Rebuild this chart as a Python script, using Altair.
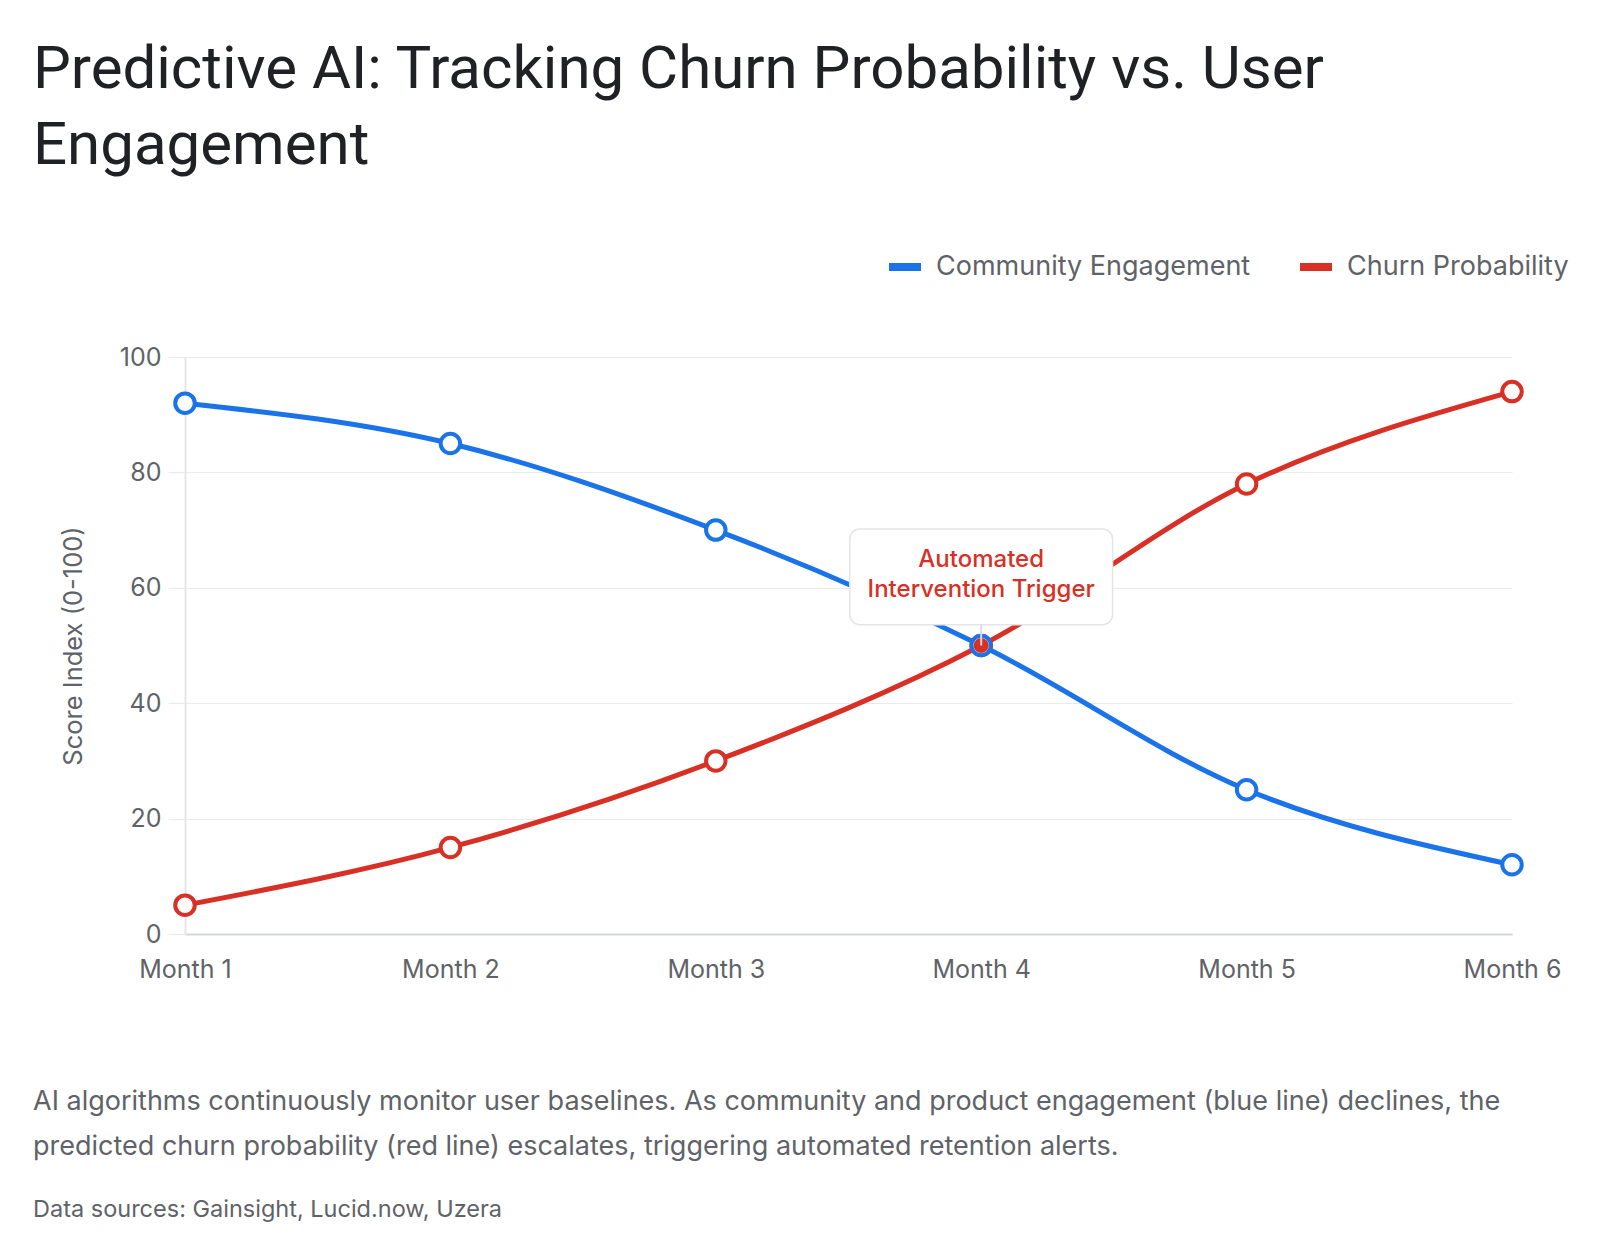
import json

import altair as alt
import pandas as pd

# ---- data -------------------------------------------------------------
months = ["Month 1", "Month 2", "Month 3", "Month 4", "Month 5", "Month 6"]
engagement = [92, 85, 70, 50, 25, 12]
churn = [5, 15, 30, 50, 78, 94]
series_names = ["Community Engagement", "Churn Probability"]
series_colors = ["#1a73e8", "#d93025"]
y_ticks = [0, 20, 40, 60, 80, 100]

trigger_month = 4
trigger_value = 50
trigger_label = ["Automated", "Intervention Trigger"]

title_lines = ["Predictive AI: Tracking Churn Probability vs. User", "Engagement"]
caption_lines = [
    "AI algorithms continuously monitor user baselines. As community and product engagement (blue line) declines, the",
    "predicted churn probability (red line) escalates, triggering automated retention alerts.",
]
sources_line = "Data sources: Gainsight, Lucid.now, Uzera"

rows = []
for i, m in enumerate(months):
    rows.append({"idx": i + 1, "month": m, "series": series_names[0], "value": engagement[i]})
    rows.append({"idx": i + 1, "month": m, "series": series_names[1], "value": churn[i]})
df = pd.DataFrame(rows)

# ---- styling ----------------------------------------------------------
TITLE_FONT = "Roboto"
FONT = "Inter"
GREY_TEXT = "#5f6368"
GRID = "#e8eaed"
W, H = 1327, 577

label_expr = f"{json.dumps(months)}[datum.value - 1]"

x_scale = alt.Scale(domain=[1, len(months)], nice=False, zero=False)
y_scale = alt.Scale(domain=[0, 100], nice=False)

x_enc = alt.X(
    "idx:Q",
    scale=x_scale,
    axis=alt.Axis(
        values=list(range(1, len(months) + 1)),
        labelExpr=label_expr,
        labelFlush=False,
        title=None,
        grid=False,
        ticks=False,
        labelPadding=23,
        labelFontSize=25,
        labelFont=FONT,
        labelColor=GREY_TEXT,
        domainColor="#d5d7da",
        domainWidth=2,
    ),
)
y_enc = alt.Y(
    "value:Q",
    scale=y_scale,
    axis=alt.Axis(
        values=y_ticks,
        title="Score Index (0-100)",
        titleFont=FONT,
        titleFontSize=25.5,
        titleFontWeight="normal",
        titleColor=GREY_TEXT,
        titleX=-112,
        titleBaseline="middle",
        grid=True,
        gridColor=GRID,
        gridWidth=1.2,
        tickColor=GRID,
        tickSize=17,
        tickWidth=1.2,
        labelPadding=7,
        labelFontSize=25,
        labelFont=FONT,
        labelColor=GREY_TEXT,
        domain=True,
        domainColor="#e3e5e8",
        domainWidth=2,
    ),
)
color_scale = alt.Scale(domain=series_names, range=series_colors)
color_enc = alt.Color(
    "series:N",
    scale=color_scale,
    legend=alt.Legend(
        title=None,
        orient="none",
        legendX=700,
        legendY=-110,
        direction="horizontal",
        symbolType="stroke",
        symbolSize=1024,
        symbolStrokeWidth=8,
        labelFontSize=27,
        labelFont=FONT,
        labelColor=GREY_TEXT,
        labelLimit=0,
        labelOffset=11,
        columnPadding=33,
        padding=0,
    ),
)
stroke_enc = alt.Stroke("series:N", scale=color_scale, legend=None)

base = alt.Chart(df)


def series_lines(name):
    return (
        base.transform_filter(alt.datum.series == name)
        .mark_line(interpolate="monotone", strokeWidth=5)
        .encode(x=x_enc, y=y_enc, color=color_enc)
    )


def series_points(name):
    return (
        base.transform_filter(alt.datum.series == name)
        .mark_point(shape="circle", filled=True, fill="white", size=380, strokeWidth=4, opacity=1)
        .encode(x=x_enc, y=y_enc, stroke=stroke_enc)
    )


# annotation box around the crossover
box_left, box_right = trigger_month - 0.495, trigger_month + 0.495
box_top, box_bottom = 70.2, 53.6
label_y = 64.8
one = pd.DataFrame({"idx": [trigger_month], "value": [trigger_value]})

box = alt.Chart(one).mark_rect(
    fill="white", stroke="#e3e5e8", strokeWidth=1.5, cornerRadius=10
).encode(
    x=alt.X(datum=box_left, scale=x_scale),
    x2=alt.X2(datum=box_right),
    y=alt.Y(datum=box_top, scale=y_scale),
    y2=alt.Y2(datum=box_bottom),
)
trigger_dot = alt.Chart(one).mark_circle(size=230, color="#d93025", opacity=1).encode(x=x_enc, y=y_enc)
connector = alt.Chart(one).mark_rule(color="#dadce0", strokeWidth=2).encode(
    x=x_enc, y=y_enc, y2=alt.Y2(datum=box_bottom)
)
trigger_text = alt.Chart(one).mark_text(
    font=FONT, fontSize=24, fontWeight=500, color="#d93025", lineHeight=30,
    align="center", baseline="middle",
).encode(x=x_enc, y=alt.Y(datum=label_y, scale=y_scale), text=alt.value(trigger_label))

# heading and footnotes
blank = pd.DataFrame({"_": [0]})
title = alt.Chart(blank).mark_text(
    font=TITLE_FONT, fontSize=60, color="#202124", align="left", baseline="alphabetic", lineHeight=76
).encode(x=alt.value(-152), y=alt.value(-269), text=alt.value(title_lines))
caption = alt.Chart(blank).mark_text(
    font=FONT, fontSize=27, color=GREY_TEXT, align="left", baseline="alphabetic", lineHeight=45
).encode(x=alt.value(-152), y=alt.value(753), text=alt.value(caption_lines))
sources = alt.Chart(blank).mark_text(
    font=FONT, fontSize=23.5, color=GREY_TEXT, align="left", baseline="alphabetic"
).encode(x=alt.value(-152), y=alt.value(860), text=alt.value(sources_line))

chart = (
    alt.layer(
        series_lines(series_names[1]),
        series_lines(series_names[0]),
        series_points(series_names[1]),
        series_points(series_names[0]),
        box,
        trigger_dot,
        connector,
        trigger_text,
        title,
        caption,
        sources,
    )
    .properties(
        width=W,
        height=H,
        autosize=alt.AutoSizeParams(type="none"),
        padding={"left": 185, "top": 357, "right": 1600 - 185 - W, "bottom": 1258 - 357 - H},
        background="white",
    )
    .configure_view(stroke=None)
)

chart.save("out.html", embed_options={"renderer": "svg", "actions": False})
